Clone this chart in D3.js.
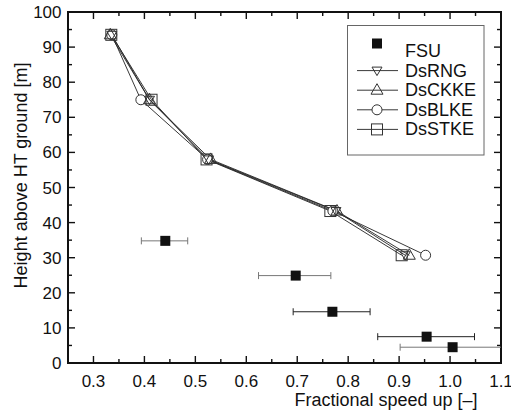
<!DOCTYPE html>
<html><head><meta charset="utf-8">
<script src="https://cdn.jsdelivr.net/npm/d3@7"></script>
<style>body{margin:0;background:#fff}svg text{font-family:"Liberation Sans",Arial,sans-serif;fill:#111}</style>
</head><body><svg id="c" width="511" height="412"></svg>
<script>
// FSU measurements
const fsuX = [0.441, 0.697, 0.769, 0.954, 1.005];
const fsuY = [34.8, 24.9, 14.6, 7.5, 4.5];
const fsuLo = [0.394, 0.624, 0.692, 0.858, 0.902];
const fsuHi = [0.485, 0.766, 0.843, 1.048, 1.1];
const fsuBarGray = [true, true, false, false, true];
// model heights
const modelH = [93.5, 75, 58, 43.3, 30.7];
const dsRNG = [0.336, 0.41, 0.526, 0.776, 0.912];
const dsCKKE = [0.333, 0.41, 0.53, 0.778, 0.92];
const dsBLKE = [0.336, 0.393, 0.524, 0.77, 0.952];
const dsSTKE = [0.335, 0.414, 0.522, 0.765, 0.905];
const xTicks = [0.3,0.4,0.5,0.6,0.7,0.8,0.9,1.0,1.1];
const yTicks = [0,10,20,30,40,50,60,70,80,90,100];
const legendNames = ["FSU","DsRNG","DsCKKE","DsBLKE","DsSTKE"];

const svg = d3.select("#c");
const L=68, R=501, T=12, B=363;
const x = d3.scaleLinear().domain([0.25,1.1]).range([L,R]);
const y = d3.scaleLinear().domain([0,100]).range([B,T]);

const g = svg.append("g");
const xMinor = d3.range(0.25,1.1001,0.05);
const yMinor = d3.range(0,100.01,5);
function isMajor(v, arr){return arr.some(a=>Math.abs(a-v)<1e-6);}
xMinor.forEach(v=>{
  const len = isMajor(v,xTicks)?7:4;
  g.append("line").attr("x1",x(v)).attr("x2",x(v)).attr("y1",B).attr("y2",B-len).attr("stroke","#111").attr("stroke-width",1.4);
  g.append("line").attr("x1",x(v)).attr("x2",x(v)).attr("y1",T).attr("y2",T+len).attr("stroke","#111").attr("stroke-width",1.4);
});
yMinor.forEach(v=>{
  const len = isMajor(v,yTicks)?7:4;
  g.append("line").attr("y1",y(v)).attr("y2",y(v)).attr("x1",L).attr("x2",L+len).attr("stroke","#111").attr("stroke-width",1.4);
  g.append("line").attr("y1",y(v)).attr("y2",y(v)).attr("x1",R).attr("x2",R-len).attr("stroke","#111").attr("stroke-width",1.4);
});
xTicks.forEach(v=>{
  g.append("text").attr("x",x(v)).attr("y",387).attr("text-anchor","middle").attr("font-size",17).text(d3.format(".1f")(v));
});
yTicks.forEach(v=>{
  g.append("text").attr("x",L-6.5).attr("y",y(v)+6).attr("text-anchor","end").attr("font-size",17).text(v);
});
svg.append("rect").attr("x",L).attr("y",T).attr("width",R-L).attr("height",B-T).attr("fill","none").attr("stroke","#111").attr("stroke-width",2);
svg.append("text").attr("x",386).attr("y",406).attr("text-anchor","middle").attr("font-size",18).text("Fractional speed up [–]");
svg.append("text").attr("transform",`translate(27,175.5) rotate(-90)`).attr("text-anchor","middle").attr("font-size",18).text("Height above HT ground [m]");

function drawSym(sel, type, cx, cy){
  const s=5.5;
  if(type==="sq") sel.append("rect").attr("x",cx-s).attr("y",cy-s).attr("width",2*s).attr("height",2*s).attr("fill","none").attr("stroke","#333").attr("stroke-width",1);
  else if(type==="ci") sel.append("circle").attr("cx",cx).attr("cy",cy).attr("r",5).attr("fill","#fff").attr("stroke","#333").attr("stroke-width",1);
  else if(type==="up") sel.append("path").attr("d",`M${cx},${cy-6.5}L${cx+6},${cy+4}L${cx-6},${cy+4}Z`).attr("fill","none").attr("stroke","#333").attr("stroke-width",1);
  else if(type==="dn") sel.append("path").attr("d",`M${cx},${cy+5}L${cx+5},${cy-3.5}L${cx-5},${cy-3.5}Z`).attr("fill","none").attr("stroke","#333").attr("stroke-width",1);
  else if(type==="fsq") sel.append("rect").attr("x",cx-5).attr("y",cy-5).attr("width",10).attr("height",10).attr("fill","#111");
}
const series = [
  {xs:dsBLKE, t:"ci"},
  {xs:dsRNG, t:"dn"},
  {xs:dsCKKE, t:"up"},
  {xs:dsSTKE, t:"sq"},
];
const line = d3.line().x(d=>x(d[0])).y(d=>y(d[1]));
const pg = svg.append("g");
series.forEach(s=>{
  pg.append("path").attr("d",line(s.xs.map((v,i)=>[v,modelH[i]]))).attr("fill","none").attr("stroke","#222").attr("stroke-width",0.9);
});
series.forEach(s=>{
  s.xs.forEach((v,i)=>drawSym(pg,s.t,x(v),y(modelH[i])));
});
fsuX.forEach((v,i)=>{
  const c = fsuBarGray[i]?"#777":"#222";
  const yy=y(fsuY[i]);
  pg.append("line").attr("x1",x(fsuLo[i])).attr("x2",x(Math.min(fsuHi[i],1.1))).attr("y1",yy).attr("y2",yy).attr("stroke",c).attr("stroke-width",1);
  [fsuLo[i],fsuHi[i]].forEach(e=>{ if(e<1.099) pg.append("line").attr("x1",x(e)).attr("x2",x(e)).attr("y1",yy-3.5).attr("y2",yy+3.5).attr("stroke",c).attr("stroke-width",1);});
  drawSym(pg,"fsq",x(v),yy);
});

const lg = svg.append("g");
lg.append("rect").attr("x",347.5).attr("y",25.5).attr("width",136.5).attr("height",129.5).attr("fill","#fff").attr("stroke","#666").attr("stroke-width",1);
const legT = ["fsq","dn","up","ci","sq"];
legendNames.forEach((n,i)=>{
  const base = 57 + i*19.6;
  const cy = base - 6;
  if(i>0) lg.append("line").attr("x1",357).attr("x2",398).attr("y1",cy).attr("y2",cy).attr("stroke","#222").attr("stroke-width",0.9);
  drawSym(lg,legT[i],377,i===0?43.5:cy);
  lg.append("text").attr("x",405).attr("y",base).attr("font-size",18).text(n);
});
</script></body></html>
